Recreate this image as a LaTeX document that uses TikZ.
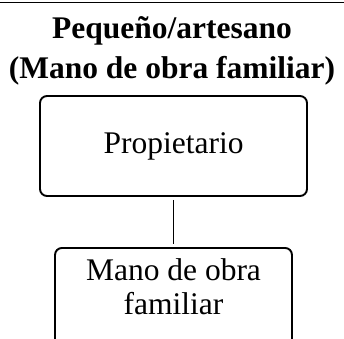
\documentclass[tikz,border=0pt]{standalone}
\usepackage{fontspec}
\setmainfont{Liberation Serif}
\usepackage{tikz}

\begin{document}
\begin{tikzpicture}[x=1pt,y=1pt,
  main/.style = {draw, rounded corners=7pt, line width=1.9pt, inner sep=0pt},
  title/.style = {inner sep=0pt, align=center, font=\fontsize{31.5}{40}\selectfont\bfseries}]
\useasboundingbox (0,0) rectangle (344,338);
\clip (0,0) rectangle (344,338);
\draw[line width=1.5pt] (0,335.5) -- (344,335.5);
\node[title, anchor=north] (0) at (172,322) {Peque\~no/artesano\\(Mano de obra familiar)};
\node[main, minimum width=267pt, minimum height=100pt, font=\fontsize{31.5}{36}\selectfont] (1) at (173.5,192) {Propietario};
\node[main, anchor=north, minimum width=237pt, inner ysep=11pt, align=center, font=\fontsize{31.5}{34}\selectfont] (2) at (173.5,91) {Mano de obra\\familiar\rule[-40pt]{0pt}{0pt}};
\draw[line width=1.3pt, shorten <=3pt, shorten >=3pt] (1) -- (2);
\end{tikzpicture}
\end{document}
